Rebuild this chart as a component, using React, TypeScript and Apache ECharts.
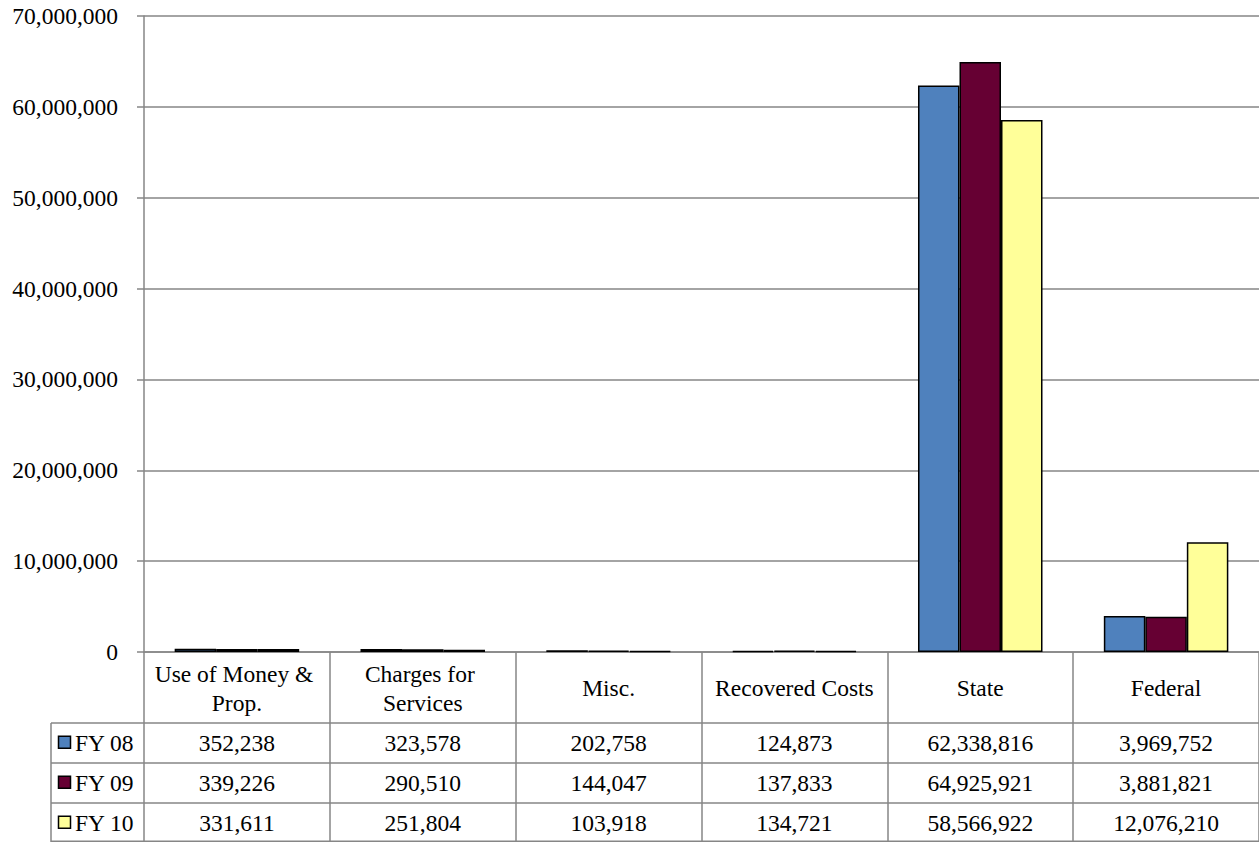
import React, { useEffect, useRef } from 'react';
import * as echarts from 'echarts';

// Revenue categories and yearly amounts
const categories = ['Use of Money & Prop.', 'Charges for Services', 'Misc.', 'Recovered Costs', 'State', 'Federal'];
const seriesNames = ['FY 08', 'FY 09', 'FY 10'];
const fy08 = [352238, 323578, 202758, 124873, 62338816, 3969752];
const fy09 = [339226, 290510, 144047, 137833, 64925921, 3881821];
const fy10 = [331611, 251804, 103918, 134721, 58566922, 12076210];
const yMin = 0;
const yMax = 70000000;
const yStep = 10000000;

const seriesValues = [fy08, fy09, fy10];
const colors = ['#4F81BD', '#660033', '#FFFF99'];

const W = 1259;
const H = 842;
const FONT = "'Liberation Serif', 'Times New Roman', serif";
const FS = 23.5;
const GRID_COLOR = '#868686';

// Table geometry (below the plot area)
const PLOT_TOP = 16;
const PLOT_BOTTOM = 652;
const PLOT_LEFT = 144;
const TABLE_LEFT = 51;
const ROW_TOPS = [723, 763, 803];
const ROW_H = 39.5;

const fmt = (v: number) => v.toLocaleString('en-US');

export default function App() {
  const ref = useRef<HTMLDivElement>(null);

  useEffect(() => {
    if (!ref.current) return;
    const chart = echarts.init(ref.current, undefined, { renderer: 'svg' });

    const option: any = {
      animation: false,
      backgroundColor: '#ffffff',
      textStyle: { fontFamily: FONT },
      grid: {
        left: PLOT_LEFT,
        top: PLOT_TOP,
        right: 0,
        bottom: H - PLOT_BOTTOM,
        containLabel: false,
      },
      xAxis: {
        type: 'category',
        data: categories,
        axisLine: { show: true, lineStyle: { color: GRID_COLOR, width: 1.5 } },
        axisTick: {
          show: true,
          inside: false,
          length: H - PLOT_BOTTOM,
          interval: 0,
          lineStyle: { color: GRID_COLOR, width: 1.5 },
        },
        axisLabel: {
          interval: 0,
          margin: 36,
          verticalAlign: 'middle',
          width: 174,
          overflow: 'break',
          lineHeight: 29,
          fontSize: FS,
          fontFamily: FONT,
          color: '#000',
        },
      },
      yAxis: {
        type: 'value',
        min: yMin,
        max: yMax,
        interval: yStep,
        axisLine: { show: true, lineStyle: { color: GRID_COLOR, width: 1.5 } },
        axisTick: { show: true, length: 7, lineStyle: { color: GRID_COLOR, width: 1.5 } },
        splitLine: { show: true, lineStyle: { color: GRID_COLOR, width: 1.5 } },
        axisLabel: {
          margin: 26,
          fontSize: FS,
          fontFamily: FONT,
          color: '#000',
          formatter: (v: number) => fmt(v),
        },
      },
      series: seriesNames.map((name, i) => ({
        name,
        type: 'bar',
        data: seriesValues[i],
        barGap: '0%',
        barCategoryGap: '33%',
        itemStyle: { color: colors[i], borderColor: '#000', borderWidth: 1.5 },
      })),
    };

    chart.setOption(option);

    // Data table beneath the axis, positioned on the category scale
    const graphics: any[] = [];
    const lineStyle = { stroke: GRID_COLOR, lineWidth: 1.5 };
    const hLines = [...ROW_TOPS, H - 0.75];
    hLines.forEach((y) => {
      graphics.push({ type: 'line', shape: { x1: TABLE_LEFT, y1: y, x2: W, y2: y }, style: lineStyle, silent: true });
    });
    graphics.push({ type: 'line', shape: { x1: TABLE_LEFT, y1: ROW_TOPS[0], x2: TABLE_LEFT, y2: H }, style: lineStyle, silent: true });

    const textStyle = (text: string, align: string) => ({
      text,
      fontSize: FS,
      fontFamily: FONT,
      fill: '#000',
      verticalAlign: 'middle',
      align,
    });

    seriesNames.forEach((name, r) => {
      const cy = ROW_TOPS[r] + ROW_H / 2;
      graphics.push({
        type: 'rect',
        shape: { x: 58.5, y: cy - 6.5, width: 12, height: 12 },
        style: { fill: colors[r], stroke: '#000', lineWidth: 1.5 },
        silent: true,
      });
      graphics.push({ type: 'text', x: 75, y: cy, style: textStyle(name, 'left'), silent: true });
      seriesValues[r].forEach((v, c) => {
        const cx = chart.convertToPixel({ xAxisIndex: 0 }, categories[c]) as number;
        graphics.push({ type: 'text', x: cx, y: cy, style: textStyle(fmt(v), 'center'), silent: true });
      });
    });

    chart.setOption({ graphic: graphics });

    return () => chart.dispose();
  }, []);

  return (
    <div
      ref={ref}
      style={{ position: 'absolute', left: 0, top: 0, width: W, height: H, background: '#fff' }}
    />
  );
}
